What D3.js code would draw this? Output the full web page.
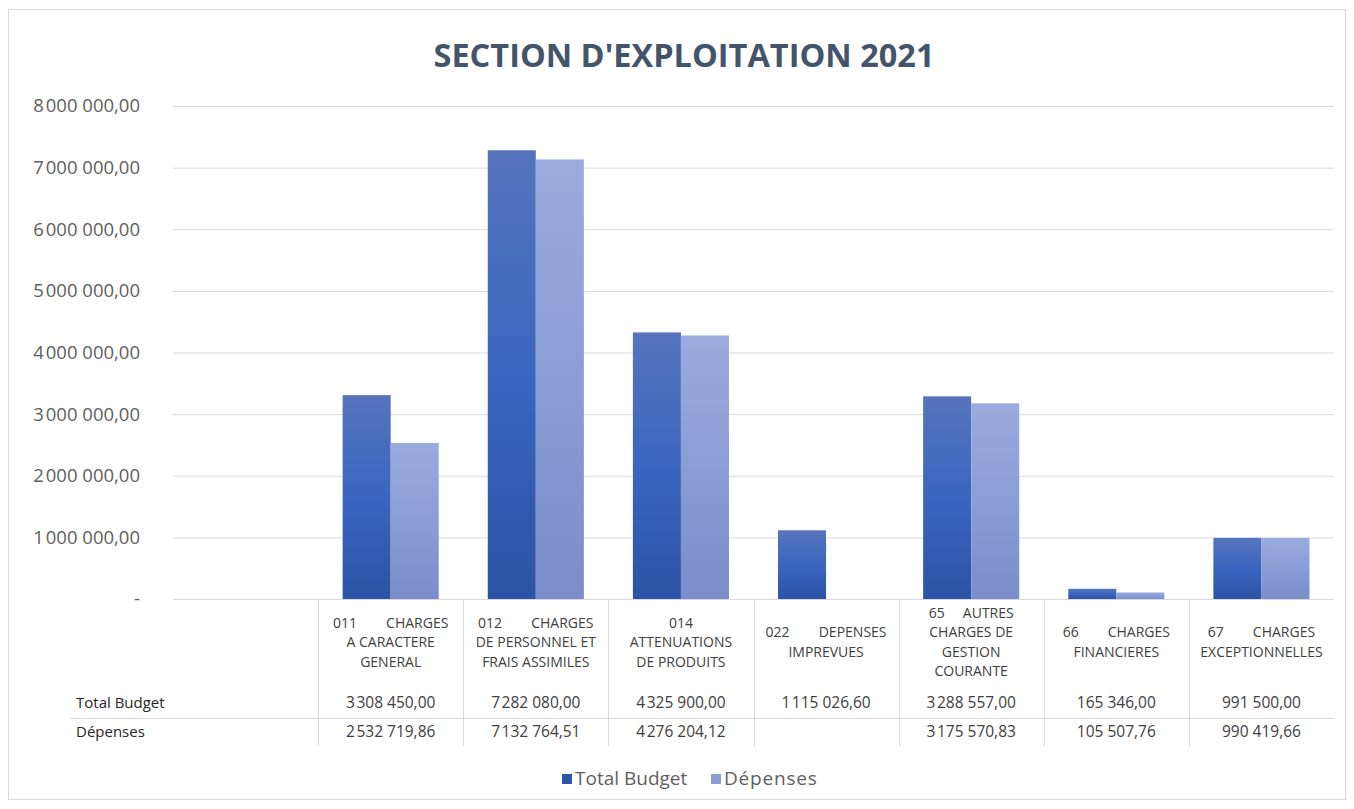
<!DOCTYPE html>
<html>
<head>
<meta charset="utf-8">
<script src="https://cdn.jsdelivr.net/npm/d3@7"></script>
<style>
  body { margin: 0; background: #fff; }
  svg { display: block; }
  text { font-family: "Open Sans", sans-serif; }
  .pre { white-space: pre; }
</style>
</head>
<body>
<svg id="chart" width="1354" height="809"></svg>
<script>
// Budget chapters (first slot is an empty category in the source table)
const categories = ["", "011", "012", "014", "022", "65", "66", "67"];
const headerLines = [
  [],
  ["011        CHARGES", "A CARACTERE", "GENERAL"],
  ["012        CHARGES", "DE PERSONNEL ET", "FRAIS ASSIMILES"],
  ["014", "ATTENUATIONS", "DE PRODUITS"],
  ["022        DEPENSES", "IMPREVUES"],
  ["65     AUTRES", "CHARGES DE", "GESTION", "COURANTE"],
  ["66        CHARGES", "FINANCIERES"],
  ["67        CHARGES", "EXCEPTIONNELLES"]
];
const seriesNames = ["Total Budget", "Dépenses"];
const totalBudget = [null, 3308450.00, 7282080.00, 4325900.00, 1115026.60, 3288557.00, 165346.00, 991500.00];
const depenses    = [null, 2532719.86, 7132764.51, 4276204.12, null, 3175570.83, 105507.76, 990419.66];
const yTicks = [0, 1000000, 2000000, 3000000, 4000000, 5000000, 6000000, 7000000, 8000000];
const title = "SECTION D'EXPLOITATION 2021";

const svg = d3.select("#chart");
const W = 1354, H = 809;
const plot = { left: 173, right: 1334, top: 106, bottom: 599 };

// French number format; the millions separator is rendered as a hair space
const locale = d3.formatLocale({ decimal: ",", thousands: " ", grouping: [3], currency: ["", ""] });
const base = locale.format(",.2f");
const fmt = v => base(v).replace(/^(\d+) (\d{3} \d{3},)/, "$1\u200A$2");

// chart frame
svg.append("rect").attr("x", 8.5).attr("y", 9.5).attr("width", W - 17).attr("height", H - 19)
  .attr("fill", "#fff").attr("stroke", "#d9d9d9");

// title
svg.append("text").attr("x", 684).attr("y", 67).attr("text-anchor", "middle")
  .attr("font-size", 32.5).attr("font-weight", 700).attr("fill", "#44546a").text(title);

const x = d3.scaleBand().domain(d3.range(categories.length)).range([plot.left, plot.right]);
const xs = d3.scaleBand().domain(seriesNames).range([0, x.bandwidth()]).paddingOuter(0.51);
const y = d3.scaleLinear().domain([0, 8000000]).range([plot.bottom, plot.top]);

// gridlines
svg.append("g").attr("transform", `translate(${plot.left},0)`)
  .call(d3.axisLeft(y).tickValues(yTicks).tickSize(-(plot.right - plot.left)).tickFormat(""))
  .call(g => g.select(".domain").remove())
  .call(g => g.selectAll(".tick line").attr("stroke", "#d9d9d9"));

// y labels
svg.append("g").attr("transform", "translate(140,0)")
  .call(d3.axisLeft(y).tickValues(yTicks).tickSize(0).tickPadding(0)
    .tickFormat(v => v === 0 ? "-" : fmt(v)))
  .call(g => g.select(".domain").remove())
  .call(g => g.selectAll("text").attr("font-family", "Open Sans").attr("font-size", 18.5)
    .attr("fill", "#606060"));

// gradients
const defs = svg.append("defs");
const grads = [
  { id: "gTotal", stops: [[0, "#5674bc"], [0.5, "#3a66bf"], [1, "#2b53a5"]] },
  { id: "gDep", stops: [[0, "#9aabdd"], [0.5, "#8a9dd6"], [1, "#7b8dca"]] }
];
grads.forEach(gd => {
  const lg = defs.append("linearGradient").attr("id", gd.id).attr("x1", 0).attr("y1", 0).attr("x2", 0).attr("y2", 1);
  gd.stops.forEach(s => lg.append("stop").attr("offset", s[0]).attr("stop-color", s[1]));
});
const fills = { "Total Budget": "url(#gTotal)", "Dépenses": "url(#gDep)" };
const legendFill = { "Total Budget": "#2f55a8", "Dépenses": "#8c9dd4" };

const rows = categories.map((c, i) => ({ i, values: [
  { s: "Total Budget", v: totalBudget[i] }, { s: "Dépenses", v: depenses[i] }
]}));

svg.append("g").selectAll("g").data(rows).join("g")
  .attr("transform", d => `translate(${x(d.i)},0)`)
  .selectAll("rect").data(d => d.values.filter(e => e.v != null)).join("rect")
  .attr("x", e => xs(e.s)).attr("width", xs.bandwidth())
  .attr("y", e => y(e.v)).attr("height", e => y(0) - y(e.v))
  .attr("fill", e => fills[e.s]);

// data table
const table = svg.append("g");
const tableTop = plot.bottom, tableBottom = 746, rowLineY = 718.5;
table.append("line").attr("x1", 70).attr("x2", plot.right).attr("y1", rowLineY).attr("y2", rowLineY)
  .attr("stroke", "#d9d9d9");
categories.forEach((c, i) => {
  if (i === 0) return;
  const xl = Math.round(x(i)) + 0.5;
  table.append("line").attr("x1", xl).attr("x2", xl).attr("y1", tableTop).attr("y2", tableBottom)
    .attr("stroke", "#d9d9d9");
});

const lineH = 19.5, headerMid = 642;
categories.forEach((c, i) => {
  const cx = x(i) + x.bandwidth() / 2;
  const lines = headerLines[i];
  const y0 = headerMid - (lines.length - 1) * lineH / 2;
  lines.forEach((ln, k) => {
    table.append("text").attr("class", "pre").attr("x", cx).attr("y", y0 + k * lineH + 5)
      .attr("text-anchor", "middle").attr("font-size", 14).attr("fill", "#404040").text(ln);
  });
  if (totalBudget[i] != null)
    table.append("text").attr("x", cx).attr("y", 708).attr("text-anchor", "middle")
      .attr("font-size", 15.5).attr("fill", "#404040").text(fmt(totalBudget[i]));
  if (depenses[i] != null)
    table.append("text").attr("x", cx).attr("y", 737).attr("text-anchor", "middle")
      .attr("font-size", 15.5).attr("fill", "#404040").text(fmt(depenses[i]));
});
seriesNames.forEach((s, k) => {
  table.append("text").attr("x", 76).attr("y", k === 0 ? 708 : 737)
    .attr("font-size", 15).attr("fill", "#262626").text(s);
});

// legend
const legend = svg.append("g");
const legendX = [562, 711];
seriesNames.forEach((s, k) => {
  legend.append("rect").attr("x", legendX[k]).attr("y", 774).attr("width", 10).attr("height", 10)
    .attr("fill", legendFill[s]);
  legend.append("text").attr("x", legendX[k] + 13).attr("y", 785).attr("font-size", 19)
    .attr("letter-spacing", k === 1 ? 0.8 : 0)
    .attr("fill", "#606060").text(s);
});
</script>
</body>
</html>
